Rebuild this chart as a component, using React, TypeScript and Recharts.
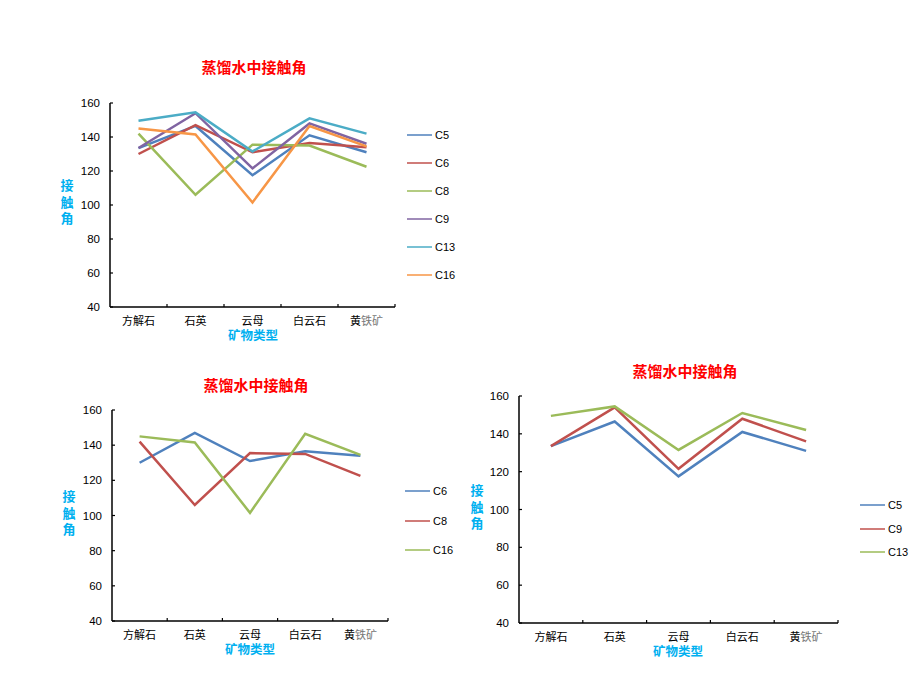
import React from 'react';
import { LineChart, Line, XAxis, YAxis } from 'recharts';

// ---- data ----
const categories = ['方解石', '石英', '云母', '白云石', '黄铁矿'];
const C5 = [133.5, 146.5, 117.5, 141, 131];
const C6 = [130, 147, 131, 136.5, 134];
const C8 = [142, 106, 135.5, 135, 122.5];
const C9 = [133.5, 154, 121.5, 148, 136];
const C13 = [149.5, 154.5, 131.5, 151, 142];
const C16 = [145, 141.5, 101.5, 146.5, 134.5];
const yTicks = [40, 60, 80, 100, 120, 140, 160];
const titleText = '蒸馏水中接触角';
const xLabelText = '矿物类型';
const yLabelText = '接触角';

const seriesValues: Record<string, number[]> = { C5, C6, C8, C9, C13, C16 };

const tableData = categories.map((c, i) => {
  const row: Record<string, string | number> = { cat: c };
  Object.keys(seriesValues).forEach((k) => {
    row[k] = seriesValues[k][i];
  });
  return row;
});

// ---- styling ----
const BLUE = '#4F81BD';
const RED = '#C0504D';
const GREEN = '#9BBB59';
const PURPLE = '#8064A2';
const TEAL = '#4BACC6';
const ORANGE = '#F79646';
const CYAN = '#00B0F0';
const LATIN = '"Liberation Sans", Arial, sans-serif';
const CJK = '"Noto Sans CJK SC", "Noto Sans", sans-serif';

type SeriesDef = { key: string; color: string };

type PanelCfg = {
  left: number;
  top: number;
  width: number;
  height: number;
  margin: { top: number; right: number; bottom: number; left: number };
  series: SeriesDef[];
  title: [number, number];
  xLabel: [number, number];
  yLabel: [number, number];
  legend: { x: number; y: number; step: number };
};

const panels: PanelCfg[] = [
  {
    left: 60, top: 90, width: 350, height: 260,
    margin: { top: 13, right: 15, bottom: 13, left: 20 },
    series: [
      { key: 'C5', color: BLUE },
      { key: 'C6', color: RED },
      { key: 'C8', color: GREEN },
      { key: 'C9', color: PURPLE },
      { key: 'C13', color: TEAL },
      { key: 'C16', color: ORANGE },
    ],
    title: [254, 66],
    xLabel: [253, 335],
    yLabel: [67, 202],
    legend: { x: 407, y: 135, step: 28 },
  },
  {
    left: 60, top: 395, width: 345, height: 270,
    margin: { top: 15, right: 17, bottom: 14, left: 22 },
    series: [
      { key: 'C6', color: BLUE },
      { key: 'C8', color: RED },
      { key: 'C16', color: GREEN },
    ],
    title: [256, 384],
    xLabel: [250, 649],
    yLabel: [69, 513],
    legend: { x: 405, y: 491, step: 29.5 },
  },
  {
    left: 470, top: 380, width: 380, height: 290,
    margin: { top: 16, right: 12, bottom: 17, left: 19 },
    series: [
      { key: 'C5', color: BLUE },
      { key: 'C9', color: RED },
      { key: 'C13', color: GREEN },
    ],
    title: [685, 370],
    xLabel: [678, 651],
    yLabel: [477, 507],
    legend: { x: 860, y: 505, step: 23.5 },
  },
];

const Y_AXIS_W = 30;
const X_AXIS_H = 30;

function makeXTick(bw: number) {
  return (props: any) => {
    const { x, y, payload } = props;
    const v: string = payload.value;
    return (
      <g>
        <line x1={x + bw / 2} x2={x + bw / 2} y1={y} y2={y - 3} stroke="#000" strokeWidth={1.2} />
        <text x={x} y={y + 18} textAnchor="middle" fontSize={11} fontFamily={CJK} fill="#000">
          {v === '黄铁矿' ? (
            <>
              <tspan>黄</tspan>
              <tspan fill="#777">铁矿</tspan>
            </>
          ) : (
            v
          )}
        </text>
      </g>
    );
  };
}

const YTick = (props: any) => {
  const { x, y, payload } = props;
  return (
    <g>
      <line x1={x} x2={x + 3} y1={y} y2={y} stroke="#000" strokeWidth={1.2} />
      <text x={x - 10} y={y + 4} textAnchor="end" fontSize={11.5} fontFamily={LATIN} fill="#000">
        {payload.value}
      </text>
    </g>
  );
};

const abs = (cx: number, cy: number): React.CSSProperties => ({
  position: 'absolute',
  left: cx,
  top: cy,
  transform: 'translate(-50%, -50%)',
  whiteSpace: 'nowrap',
  lineHeight: 1,
});

function Panel({ cfg }: { cfg: PanelCfg }) {
  const plotW = cfg.width - cfg.margin.left - cfg.margin.right - Y_AXIS_W;
  const bw = plotW / categories.length;
  return (
    <>
      <div style={{ position: 'absolute', left: cfg.left, top: cfg.top }}>
        <LineChart width={cfg.width} height={cfg.height} data={tableData} margin={cfg.margin}>
          <XAxis
            dataKey="cat"
            type="category"
            height={X_AXIS_H}
            padding={{ left: bw / 2, right: bw / 2 }}
            tickSize={0}
            tickMargin={0}
            tickLine={false}
            interval={0}
            axisLine={{ stroke: '#000', strokeWidth: 1.5 }}
            tick={makeXTick(bw)}
          />
          <YAxis
            type="number"
            domain={[40, 160]}
            ticks={yTicks}
            width={Y_AXIS_W}
            tickSize={0}
            tickMargin={0}
            tickLine={false}
            interval={0}
            axisLine={{ stroke: '#000', strokeWidth: 1.5 }}
            tick={YTick}
          />
          {cfg.series.map((s) => (
            <Line
              key={s.key}
              type="linear"
              dataKey={s.key}
              stroke={s.color}
              strokeWidth={2.5}
              dot={false}
              activeDot={false}
              isAnimationActive={false}
            />
          ))}
        </LineChart>
      </div>
      <div style={{ ...abs(cfg.title[0], cfg.title[1]), color: '#FF0000', fontWeight: 'bold', fontSize: 15, fontFamily: CJK }}>
        {titleText}
      </div>
      <div style={{ ...abs(cfg.xLabel[0], cfg.xLabel[1]), color: CYAN, fontWeight: 'bold', fontSize: 12.5, fontFamily: CJK }}>
        {xLabelText}
      </div>
      <div
        style={{
          ...abs(cfg.yLabel[0], cfg.yLabel[1]),
          color: CYAN,
          fontWeight: 'bold',
          fontSize: 13,
          fontFamily: CJK,
          lineHeight: '16.5px',
          textAlign: 'center',
        }}
      >
        {yLabelText.split('').map((ch, i) => (
          <div key={i}>{ch}</div>
        ))}
      </div>
      {cfg.series.map((s, i) => (
        <div
          key={s.key}
          style={{
            position: 'absolute',
            left: cfg.legend.x,
            top: cfg.legend.y + i * cfg.legend.step - 8,
            height: 16,
            display: 'flex',
            alignItems: 'center',
            fontFamily: LATIN,
            fontSize: 11,
            color: '#000',
            whiteSpace: 'nowrap',
          }}
        >
          <svg width={25} height={4} style={{ display: 'block', marginRight: 3 }}>
            <line x1={0} x2={25} y1={2} y2={2} stroke={s.color} strokeWidth={1.5} />
          </svg>
          <span>{s.key}</span>
        </div>
      ))}
    </>
  );
}

export default function App() {
  return (
    <div style={{ position: 'absolute', left: 0, top: 0, width: 920, height: 690, background: '#fff', overflow: 'hidden' }}>
      {panels.map((p, i) => (
        <Panel key={i} cfg={p} />
      ))}
    </div>
  );
}
